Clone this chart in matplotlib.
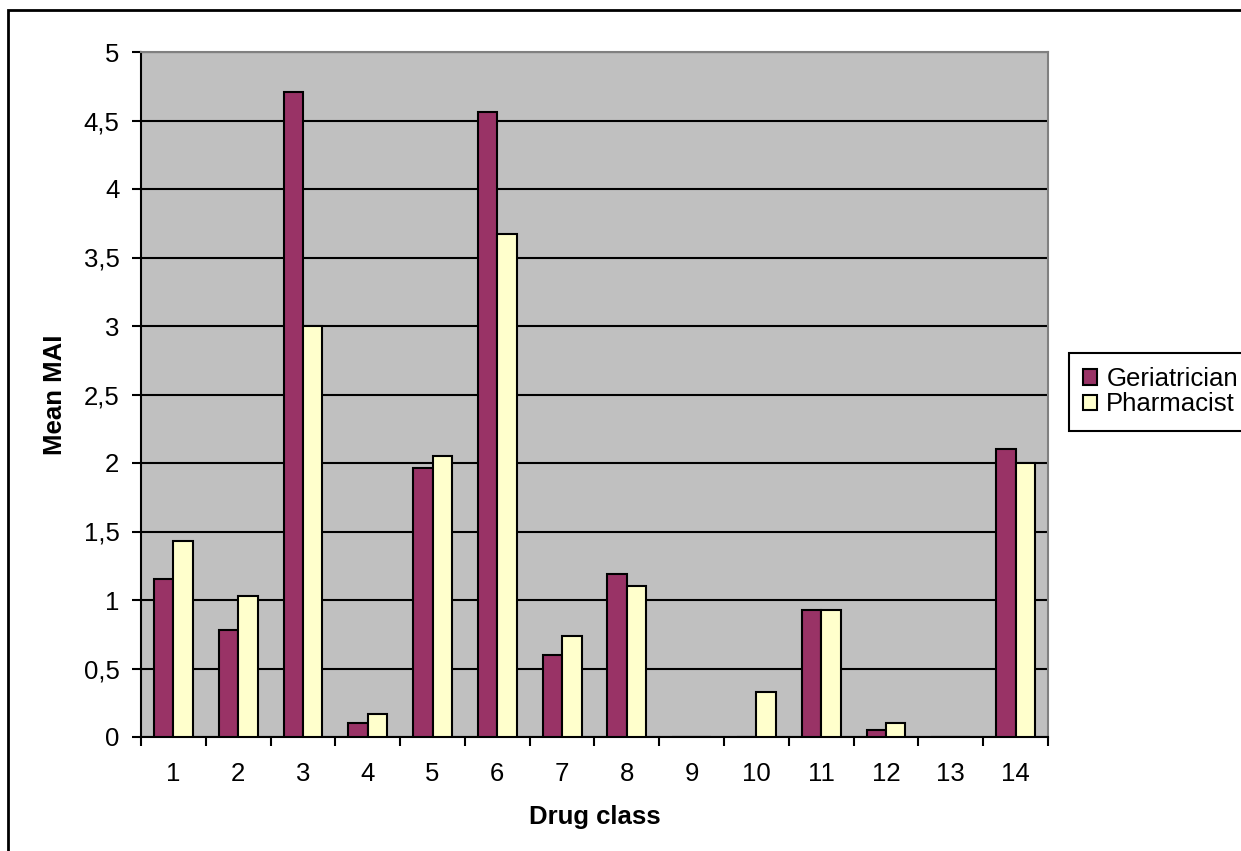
import matplotlib
matplotlib.use("Agg")
import matplotlib.pyplot as plt
import numpy as np
from matplotlib.patches import Rectangle

categories = [str(i) for i in range(1, 15)]
geriatrician = [1.15, 0.78, 4.71, 0.10, 1.96, 4.56, 0.60, 1.19, 0.0, 0.0, 0.93, 0.05, 0.0, 2.10]
pharmacist = [1.43, 1.03, 3.00, 0.17, 2.05, 3.67, 0.74, 1.10, 0.0, 0.33, 0.93, 0.10, 0.0, 2.00]
yticks = [0, 0.5, 1, 1.5, 2, 2.5, 3, 3.5, 4, 4.5, 5]
ytick_labels = ["0", "0,5", "1", "1,5", "2", "2,5", "3", "3,5", "4", "4,5", "5"]

plt.rcParams['font.family'] = ['Liberation Sans', 'DejaVu Sans']
FS = 18.5

W, H = 1241, 851
fig = plt.figure(figsize=(W / 100, H / 100), dpi=100)
fig.patch.set_facecolor('white')

# outer chart border (cropped at right and bottom)
fig.patches.append(Rectangle((8 / W, -0.02), 1.05, 1 - 10 / H + 0.02, transform=fig.transFigure,
                             fill=False, edgecolor='black', linewidth=2, clip_on=False))

left, right, top, bottom = 141 / W, 1048 / W, 1 - 52 / H, 1 - 737 / H
ax = fig.add_axes([left, bottom, right - left, top - bottom])
ax.set_facecolor('#C0C0C0')

x = np.arange(len(categories))
bw = 0.3
ax.bar(x - bw / 2, geriatrician, bw, color='#993366', edgecolor='black', linewidth=1.5,
       label='Geriatrician', zorder=3)
ax.bar(x + bw / 2, pharmacist, bw, color='#FFFFCC', edgecolor='black', linewidth=1.5,
       label='Pharmacist', zorder=3)

ax.set_xlim(-0.5, len(categories) - 0.5)
ax.set_ylim(0, 5)
ax.set_yticks(yticks)
ax.set_yticklabels(ytick_labels, fontsize=FS)
ax.yaxis.grid(True, color='black', linewidth=1.5, zorder=1)
ax.set_axisbelow(True)

ax.set_xticks(x)
ax.set_xticklabels(categories, fontsize=FS)
ax.set_xticks(np.arange(-0.5, len(categories)), minor=True)
ax.tick_params(axis='x', which='major', length=0, pad=18)
ax.tick_params(axis='x', which='minor', length=6.5, width=1.5, direction='out')
ax.tick_params(axis='y', length=6.5, width=1.5, direction='out', pad=9)

for s in ['left', 'bottom']:
    ax.spines[s].set_color('black')
    ax.spines[s].set_linewidth(1.5)
for s in ['top', 'right']:
    ax.spines[s].set_color('#808080')
    ax.spines[s].set_linewidth(1.5)

ax.set_xlabel('Drug class', fontsize=FS, fontweight='bold', labelpad=14)
ax.set_ylabel('Mean MAI', fontsize=FS, fontweight='bold', labelpad=12)

leg = fig.legend(loc='upper left', bbox_to_anchor=(1069 / W, 1 - 353 / H), fontsize=FS,
                 frameon=True, fancybox=False, edgecolor='black', framealpha=1,
                 handlelength=0.55, handleheight=0.55, handletextpad=0.35,
                 borderpad=0.55, labelspacing=0.05, borderaxespad=0)
leg.get_frame().set_linewidth(1.5)

fig.savefig('out.png', dpi=100)
